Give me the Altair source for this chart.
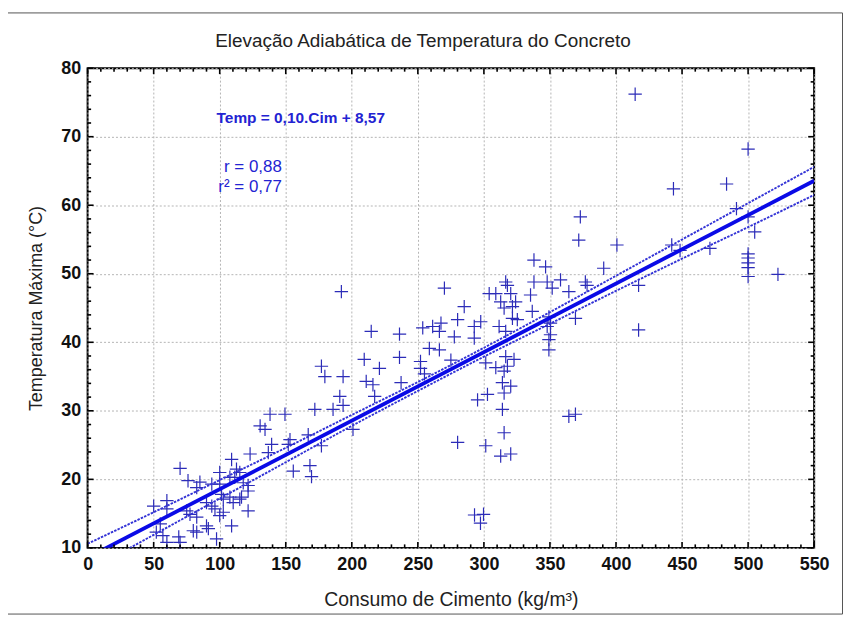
import altair as alt
import pandas as pd

# ---------------- data ----------------
cim = [50, 60, 60, 55, 52, 57, 60, 70, 69, 70, 75, 77.5, 82.6, 76, 85, 82.6, 94, 90, 94, 96.4,
       80, 82.6, 90, 91.4, 97.6, 100, 100, 101.4, 102.7, 102.7, 100, 107.7, 111.4, 107.7, 110.2,
       109, 109, 112.7, 115.2, 117.8, 121.5, 121.5, 115.2, 116.5, 121.5, 123,
       130.6, 134.3, 136.8, 138.1, 149.4, 139.3, 151.9, 153.2, 155.7, 167, 168.3, 169.5, 172,
       177, 177, 179.6, 185.8, 190.9, 193.4, 192.1, 193.4, 200.9, 209.4, 210.9, 214.7, 216,
       217.3, 220.9, 236.1, 236.1, 237.3, 252, 252, 255, 253.7, 261.2, 267.5, 266.3, 258.7,
       266.3, 270.1, 275,
       277.6, 280.1, 285.1, 292.7, 297.6, 292.7, 280.1, 301.4, 292.9, 299.7, 297.4, 295.2,
       302.7, 301.4, 304, 309, 309, 311.5, 312.7, 312.7, 314, 314, 315.3, 315.3, 315.3, 315.3,
       316.5, 317.8, 316.5, 316.5, 317.8, 320.3, 320.3, 320.3, 321.6, 321.6, 322.8, 324, 325.3,
       335.3, 336.6, 337.9, 337.9, 346.7, 347.9, 351.7, 347.9, 350.4, 349.2, 349.2, 349.2, 350.4,
       358, 364.3, 364.3, 369.3, 369.3, 373, 371.8, 376.8, 378.1, 390.7, 400.7, 414.5, 417.1,
       417.1, 442.2, 443.5, 448.5, 471.1, 483.7, 491.2, 500, 500, 505, 500, 500, 500, 500, 500,
       522.6]
temp = [16.1, 16.9, 15.7, 13.5, 12.3, 11.8, 10.8, 10.8, 11.6, 21.6, 15.4, 14.9, 14.5, 19.8, 19.6,
        18.8, 19.3, 16.6, 16.1, 15.7, 12.5, 12.3, 13.2, 12.8, 11.3, 21.0, 19.3, 17.8, 17.1, 15.2,
        14.7, 20.3, 20.3, 17.4, 16.6, 13.2, 22.9, 21.5, 21.0, 19.5, 19.1, 18.3, 17.1, 17.4, 15.4,
        23.7,
        27.8, 27.3, 23.9, 29.5, 29.5, 25.1, 25.1, 25.8, 21.2, 26.5, 22.0, 20.4, 30.2, 24.9, 36.5,
        35.0, 30.2, 32.1, 30.8, 47.4, 35.0, 27.3, 37.5, 34.3, 41.6, 33.8, 32.1, 36.2, 41.2, 37.8,
        34.1, 37.2, 36.2, 35.4, 42.1, 42.3, 42.8, 41.6, 39.1, 38.9, 47.9, 37.4,
        40.8, 43.3, 45.2, 42.3, 43.0, 40.6, 25.4, 24.9, 14.8, 14.9, 13.6, 31.6, 32.4, 37.0, 47.1,
        47.1, 36.3, 42.3, 45.9, 23.4, 34.1, 30.2, 45.0, 35.8, 32.6, 26.8, 48.8, 48.3, 41.6, 37.9,
        36.5, 47.1, 33.6, 23.7, 45.2, 43.5, 37.5, 45.9, 43.3, 46.9, 44.5, 48.8, 52.0, 51.0, 48.8,
        47.9, 42.3, 41.1, 40.4, 38.9, 43.7, 42.8, 49.1, 47.4, 29.2, 29.5, 43.5, 58.3, 54.9, 48.8,
        48.3, 50.8, 54.2, 76.2, 48.3, 41.8, 54.2, 62.4, 53.4, 53.7, 63.1, 59.5, 68.2, 58.3, 56.1,
        52.9, 52.3, 51.6, 50.9, 49.6, 49.9]

fit_x = [0, 550]
fit_y = [8.57, 63.57]

band_x = [0, 50, 100, 150, 200, 250, 300, 350, 400, 450, 500, 550]
band_upper = [10.6, 15.2, 19.9, 24.6, 29.4, 34.2, 39.2, 44.4, 49.7, 55.0, 60.3, 65.6]
band_lower = [6.6, 11.9, 17.2, 22.5, 27.8, 32.9, 37.9, 42.7, 47.5, 52.2, 56.8, 61.5]

x_ticks = [0, 50, 100, 150, 200, 250, 300, 350, 400, 450, 500, 550]
x_minor = [10, 20, 30, 40, 60, 70, 80, 90, 110, 120, 130, 140, 160, 170, 180, 190, 210, 220, 230,
           240, 260, 270, 280, 290, 310, 320, 330, 340, 360, 370, 380, 390, 410, 420, 430, 440,
           460, 470, 480, 490, 510, 520, 530, 540]
y_ticks = [10, 20, 30, 40, 50, 60, 70, 80]
y_minor = [12, 14, 16, 18, 22, 24, 26, 28, 32, 34, 36, 38, 42, 44, 46, 48, 52, 54, 56, 58,
           62, 64, 66, 68, 72, 74, 76, 78]

title_text = ["Elevação Adiabática de Temperatura do Concreto"]
eq_text = ["Temp = 0,10.Cim + 8,57"]
eq_x = [97.6]
eq_y = [72.7]
r_text = ["r = 0,88", "r² = 0,77"]
r_x = [147, 147]
r_y = [65.6, 62.6]

# ---------------- chart ----------------
W, H = 730, 482
FONT = "Liberation Sans"
BLUE_PT = "#2c2cb8"
BLUE_LINE = "#0a0ae6"
BLUE_TXT = "#2323d2"

xs = alt.Scale(domain=[0, 550], nice=False, zero=False)
ys = alt.Scale(domain=[10, 80], nice=False, zero=False)

pts_df = pd.DataFrame({"cim": cim, "temp": temp})
fit_df = pd.DataFrame({"cim": fit_x, "temp": fit_y})
band_df = pd.DataFrame({"cim": band_x, "upper": band_upper, "lower": band_lower})

x_axis = alt.Axis(values=x_ticks, title="Consumo de Cimento (kg/m³)", grid=True,
                  gridDash=[2, 2], gridColor="#b4b4b4", gridWidth=1, domain=False, ticks=False,
                  labelFont=FONT, labelFontSize=18, labelFontWeight="bold", labelColor="#111111",
                  labelPadding=8, labelFlush=False,
                  titleFont=FONT, titleFontSize=19.5, titleFontWeight="normal", titleColor="#222222",
                  titlePadding=17)
y_axis = alt.Axis(values=y_ticks, title="Temperatura Máxima (°C)", grid=True,
                  gridDash=[2, 2], gridColor="#b4b4b4", gridWidth=1, domain=False, ticks=False,
                  labelFont=FONT, labelFontSize=18, labelFontWeight="bold", labelColor="#111111",
                  labelPadding=7, labelFlush=False,
                  titleFont=FONT, titleFontSize=18, titleFontWeight="normal", titleColor="#222222",
                  titlePadding=15)


def X(field):
    return alt.X(field, scale=xs, axis=x_axis)


def Y(field):
    return alt.Y(field, scale=ys, axis=y_axis)


points = alt.Chart(pts_df).mark_point(
    shape="M-1,0L1,0M0,-1L0,1", size=180, filled=False, strokeWidth=1.2, color=BLUE_PT, opacity=1
).encode(x=X("cim:Q"), y=Y("temp:Q"))

fit = alt.Chart(fit_df).mark_line(color=BLUE_LINE, strokeWidth=3.8, clip=True).encode(
    x=X("cim:Q"), y=Y("temp:Q"))

upper = alt.Chart(band_df).mark_line(color="#3333d6", strokeWidth=1.9, strokeDash=[2.5, 1.2],
                                      clip=True, interpolate="monotone").encode(
    x=X("cim:Q"), y=Y("upper:Q"))
lower = alt.Chart(band_df).mark_line(color="#3333d6", strokeWidth=1.9, strokeDash=[2.5, 1.2],
                                      clip=True, interpolate="monotone").encode(
    x=X("cim:Q"), y=Y("lower:Q"))

eq = alt.Chart(pd.DataFrame({"x": eq_x, "y": eq_y, "t": eq_text})).mark_text(
    align="left", baseline="middle", font=FONT, fontSize=15.5, fontWeight="bold", color=BLUE_TXT
).encode(x=X("x:Q"), y=Y("y:Q"), text="t:N")

rtxt = alt.Chart(pd.DataFrame({"x": r_x, "y": r_y, "t": r_text})).mark_text(
    align="right", baseline="middle", font=FONT, fontSize=17, color=BLUE_TXT
).encode(x=X("x:Q"), y=Y("y:Q"), text="t:N")

title = alt.Chart(pd.DataFrame({"t": title_text})).mark_text(
    align="center", baseline="middle", font=FONT, fontSize=19, color="#222222"
).encode(x=alt.value(W / 2 - 28), y=alt.value(-27), text="t:N")


def xtick_layer(vals, length, top):
    df = pd.DataFrame({"v": vals})
    y0, y1 = (0, length) if top else (H, H - length)
    return alt.Chart(df).mark_rule(color="black", strokeWidth=1.6).encode(
        x=X("v:Q"), y=alt.value(y0), y2=alt.value(y1))


def ytick_layer(vals, length, right):
    df = pd.DataFrame({"v": vals})
    x0, x1 = (W, W - length) if right else (0, length)
    return alt.Chart(df).mark_rule(color="black", strokeWidth=1.6).encode(
        y=Y("v:Q"), x=alt.value(x0), x2=alt.value(x1))


ticks = [
    xtick_layer(x_ticks, 6, False), xtick_layer(x_minor, 3.5, False),
    xtick_layer(x_ticks, 6, True), xtick_layer(x_minor, 3.5, True),
    ytick_layer(y_ticks, 6, False), ytick_layer(y_minor, 3.5, False),
    ytick_layer(y_ticks, 6, True), ytick_layer(y_minor, 3.5, True),
]

frame = alt.Chart(pd.DataFrame({"k": [0]})).mark_rect(
    fillOpacity=0, stroke="#555555", strokeWidth=1
).encode(x=alt.value(-82.5), x2=alt.value(758.5), y=alt.value(-55.5), y2=alt.value(548.5))

chart = alt.layer(points, upper, lower, fit, eq, rtxt, title, *ticks, frame).properties(
    width=W, height=H,
    autosize=alt.AutoSizeParams(type="none"),
    padding={"left": 80, "top": 59, "right": 30, "bottom": 68},
    background="white",
).configure_view(stroke="black", strokeWidth=2)

chart.save("out.html", embed_options={"renderer": "svg", "actions": False})
